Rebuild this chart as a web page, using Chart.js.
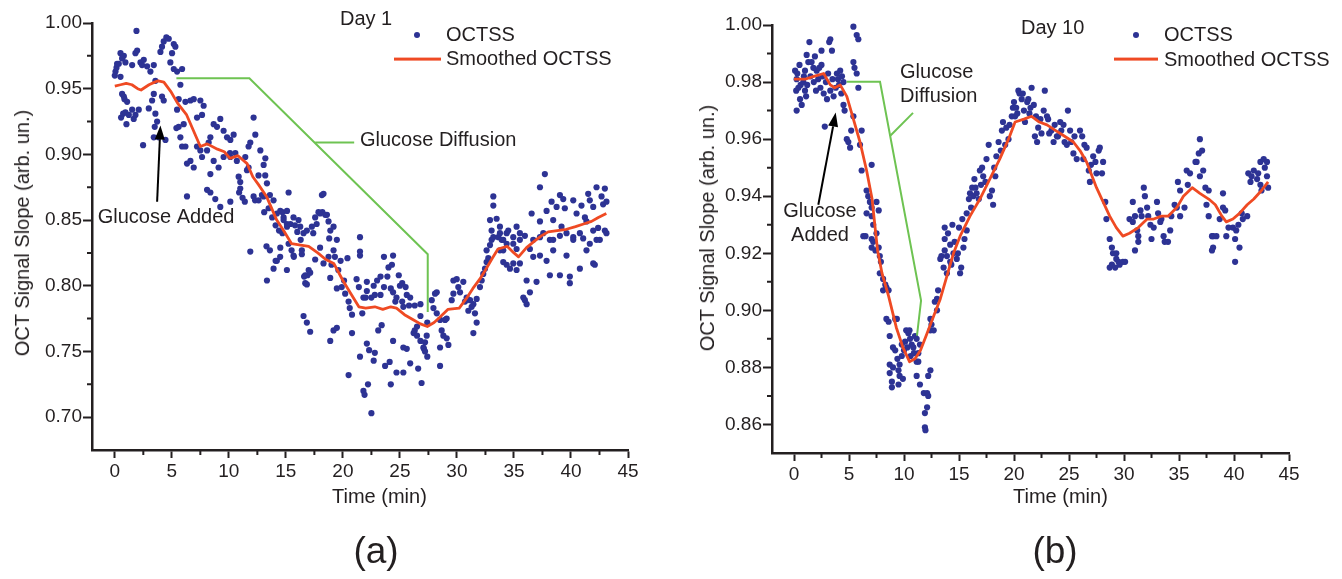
<!DOCTYPE html>
<html lang="en">
<head>
<meta charset="UTF-8">
<title>OCTSS - Day 1 / Day 10</title>
<script src="https://cdn.jsdelivr.net/npm/chart.js@4"></script>
<style>
  html, body { margin: 0; padding: 0; background: #fff; }
  body { width: 1342px; height: 579px; position: relative; overflow: hidden;
         font-family: 'Liberation Sans', Arial, Helvetica, sans-serif; color: #231f20; }
  canvas { position: absolute; top: 0; }
  .txt { position: absolute; font-size: 20px; line-height: 1; white-space: nowrap; transform: translateY(-50%); }
  .ytitle { position: absolute; font-size: 20px; line-height: 1; white-space: nowrap; transform: translate(-50%, -50%) rotate(-90deg); }
  .dot { position: absolute; width: 6px; height: 6px; border-radius: 50%; background: #2d3394; transform: translate(-50%, -50%); }
  .seg { position: absolute; height: 2.8px; background: #ef4a23; transform: translateY(-50%); }
  .tag { position: absolute; font-size: 37px; line-height: 1; transform: translate(-50%, -50%); }
</style>
</head>
<body>
<canvas id="day1" width="671" height="500" style="left:0"></canvas>
<canvas id="day10" width="662" height="500" style="left:680px"></canvas>

<!-- panel (a) texts -->
<div class="txt" style="left:340px;top:18px">Day 1</div>
<div class="dot" style="left:417px;top:35px"></div>
<div class="txt" style="left:446px;top:34px">OCTSS</div>
<div class="seg" style="left:394px;top:59px;width:47px"></div>
<div class="txt" style="left:446px;top:58px">Smoothed OCTSS</div>
<div class="ytitle" style="left:22px;top:233px">OCT Signal Slope (arb. un.)</div>
<div class="txt" style="left:332px;top:496px">Time (min)</div>
<div class="tag" style="left:376px;top:550px">(a)</div>

<!-- panel (b) texts -->
<div class="txt" style="left:1021px;top:27px">Day 10</div>
<div class="dot" style="left:1136px;top:35px"></div>
<div class="txt" style="left:1164px;top:34px">OCTSS</div>
<div class="seg" style="left:1114px;top:59px;width:44px"></div>
<div class="txt" style="left:1164px;top:59px">Smoothed OCTSS</div>
<div class="ytitle" style="left:707px;top:228px">OCT Signal Slope (arb. un.)</div>
<div class="txt" style="left:1013px;top:496px">Time (min)</div>
<div class="tag" style="left:1055px;top:550px">(b)</div>

<script>
// ---- data: [time (min), OCT signal slope] ----
const day1Points = [
  [0.0,0.960],[0.06,0.963],[0.15,0.966],[0.2,0.969],[0.35,0.969],[0.5,0.977],[0.5,0.959],[0.55,0.928],[0.64,0.973],[0.64,0.946],
  [0.73,0.931],[0.79,0.975],[0.79,0.944],[0.85,0.942],[0.93,0.970],[0.93,0.932],[1.02,0.923],[1.08,0.940],[1.23,0.930],[1.52,0.968],
  [1.52,0.934],[1.66,0.927],[1.81,0.977],[1.81,0.930],[1.9,0.994],[1.96,0.979],
  [2.1,0.934],[2.25,0.970],[2.39,0.968],[2.48,0.907],[2.54,0.972],[2.83,0.967],[2.98,0.935],[3.12,0.963],[3.27,0.941],[3.42,0.968],
  [3.42,0.946],[3.42,0.913],[3.5,0.921],[3.56,0.956],[3.56,0.931],[3.71,0.925],[3.85,0.913],[4.0,0.978],
  [4.14,0.982],[4.14,0.944],[4.29,0.986],[4.29,0.941],[4.44,0.911],[4.52,0.989],[4.73,0.988],[4.87,0.970],[5.02,0.977],[5.17,0.984],
  [5.17,0.965],[5.31,0.982],[5.4,0.920],[5.46,0.963],[5.46,0.934],[5.6,0.942],[5.6,0.921],[5.75,0.953],[5.75,0.913],[5.9,0.965],[5.9,0.906],
  [6.04,0.923],[6.19,0.940],[6.19,0.906],[6.33,0.893],[6.33,0.868],[6.63,0.941],[6.63,0.895],[6.92,0.942],[6.92,0.890],[7.21,0.928],
  [7.21,0.906],[7.5,0.941],[7.5,0.903],[7.65,0.930],[7.65,0.898],[7.79,0.937],
  [8.09,0.903],[8.09,0.873],[8.23,0.909],[8.38,0.913],[8.38,0.885],[8.38,0.871],[8.67,0.923],[8.67,0.895],[8.81,0.866],[8.96,0.921],
  [9.1,0.890],[9.25,0.927],[9.25,0.860],[9.54,0.918],[9.54,0.898],[9.84,0.913],
  [10.1,0.901],[10.13,0.911],[10.13,0.898],[10.13,0.864],[10.42,0.915],[10.57,0.901],[10.7,0.895],[10.86,0.883],[10.9,0.871],[11.0,0.879],
  [11.0,0.874],[11.2,0.867],[11.4,0.864],[11.44,0.898],[11.59,0.888],[11.73,0.906],[11.73,0.890],[11.88,0.909],[11.88,0.826],
  [12.17,0.928],[12.17,0.868],[12.3,0.865],[12.32,0.915],[12.6,0.884],[12.61,0.865],[12.76,0.903],[12.9,0.869],[13.05,0.892],[13.05,0.868],
  [13.1,0.856],[13.2,0.897],[13.19,0.884],[13.3,0.830],[13.34,0.878],[13.34,0.804],[13.49,0.859],[13.6,0.869],[13.6,0.827],[13.8,0.852],
  [13.92,0.865],[13.92,0.813],
  [14.1,0.846],[14.1,0.819],[14.21,0.855],[14.21,0.819],[14.4,0.842],[14.5,0.822],[14.51,0.857],[14.51,0.829],[14.7,0.856],[14.7,0.840],
  [14.8,0.852],[14.8,0.850],[15.09,0.847],[15.09,0.812],[15.1,0.857],[15.1,0.845],[15.24,0.871],[15.24,0.832],[15.4,0.847],[15.5,0.827],
  [15.67,0.852],[15.67,0.823],[15.7,0.822],[15.8,0.846],
  [16.0,0.841],[16.11,0.850],[16.26,0.845],[16.3,0.835],[16.4,0.824],[16.4,0.827],[16.55,0.840],[16.55,0.777],[16.6,0.807],[16.7,0.808],
  [16.7,0.802],[16.84,0.842],[16.84,0.801],[16.84,0.772],[16.9,0.808],[17.0,0.812],[17.13,0.810],[17.13,0.765],[17.28,0.845],[17.4,0.840],
  [17.57,0.852],[17.57,0.820],[17.7,0.847],[17.86,0.856],[18.0,0.855],[18.0,0.829],
  [18.16,0.869],[18.2,0.856],[18.3,0.870],[18.3,0.817],[18.45,0.854],[18.6,0.854],[18.74,0.849],[18.74,0.822],[18.8,0.836],[18.89,0.806],
  [18.89,0.758],[18.9,0.842],[19.0,0.816],[19.18,0.845],[19.18,0.827],[19.18,0.766],[19.3,0.822],[19.47,0.835],[19.47,0.798],[19.47,0.768],
  [19.6,0.812],[19.8,0.819],[19.9,0.799],
  [20.1,0.804],[20.2,0.794],[20.4,0.821],[20.5,0.788],[20.5,0.732],[20.6,0.783],[20.8,0.778],[20.8,0.764],[21.2,0.805],[21.4,0.799],
  [21.5,0.837],[21.5,0.826],[21.5,0.823],[21.5,0.746],[21.7,0.779],[21.8,0.791],[21.8,0.720],[21.9,0.717],[22.0,0.791],[22.1,0.796],
  [22.1,0.803],[22.1,0.756],[22.2,0.725],[22.3,0.751],[22.5,0.791],[22.5,0.703],[22.7,0.800],[22.7,0.743],[22.8,0.793],[22.8,0.749],
  [23.0,0.804],[23.1,0.766],[23.3,0.807],[23.3,0.793],[23.4,0.770],[23.6,0.822],[23.6,0.799],[23.7,0.739],[23.9,0.807],[24.0,0.814],
  [24.1,0.742],[24.2,0.798],[24.2,0.725],[24.3,0.816],[24.4,0.823],[24.4,0.795],[24.4,0.758],[24.6,0.788],[24.7,0.791],[24.7,0.734],[24.9,0.808],
  [25.0,0.800],[25.2,0.802],[25.2,0.788],[25.3,0.784],[25.3,0.753],[25.3,0.734],[25.5,0.799],[25.6,0.793],[25.6,0.752],[25.8,0.785],
  [25.9,0.791],[25.9,0.741],[26.2,0.764],[26.3,0.785],[26.3,0.766],[26.5,0.769],[26.5,0.762],[26.6,0.737],[26.8,0.786],[26.8,0.777],
  [26.8,0.758],[26.9,0.726],
  [27.06,0.753],[27.1,0.752],[27.2,0.757],[27.2,0.750],[27.35,0.762],[27.4,0.772],[27.4,0.746],[27.79,0.789],[27.94,0.783],[28.08,0.794],
  [28.23,0.795],[28.23,0.779],[28.52,0.774],[28.52,0.753],[28.52,0.739],[28.66,0.766],[28.81,0.762],[28.96,0.774],
  [29.1,0.775],[29.1,0.760],[29.25,0.755],[29.54,0.789],[29.69,0.804],[29.69,0.794],[29.98,0.805],[30.12,0.799],[30.27,0.795],[30.56,0.803],
  [30.71,0.788],[30.85,0.791],[31.0,0.781],[31.15,0.789],[31.29,0.784],[31.44,0.786],[31.44,0.764],[31.58,0.779],[31.73,0.790],[31.73,0.772],
  [32.02,0.799],[32.17,0.804],[32.31,0.809],[32.46,0.813],[32.6,0.827],[32.6,0.818],[32.75,0.821],[32.9,0.850],[32.9,0.831],[33.04,0.842],
  [33.04,0.835],[33.19,0.868],[33.19,0.861],[33.19,0.837],[33.48,0.851],[33.63,0.837],[33.77,0.845],[33.77,0.840],[33.77,0.827],[33.92,0.835],
  [34.06,0.835],[34.06,0.827],[34.06,0.818],[34.36,0.840],[34.36,0.832],[34.36,0.816],[34.5,0.842],[34.65,0.813],[34.94,0.837],[34.94,0.832],
  [34.94,0.817],[35.23,0.845],[35.23,0.828],[35.23,0.812],[35.52,0.840],[35.52,0.835],[35.52,0.817],[35.82,0.791],[35.96,0.838],[35.96,0.789],
  [36.11,0.804],[36.11,0.786],[36.4,0.828],[36.4,0.795],[36.55,0.855],[36.69,0.835],[36.69,0.822],[36.98,0.803],[37.28,0.875],[37.28,0.849],
  [37.28,0.837],[37.28,0.823],[37.57,0.840],[37.71,0.885],[37.86,0.857],[37.86,0.819],
  [38.15,0.835],[38.15,0.808],[38.3,0.864],[38.44,0.850],[38.44,0.835],[38.44,0.827],[38.74,0.860],[39.03,0.869],[39.03,0.838],[39.03,0.808],
  [39.17,0.845],[39.32,0.866],[39.46,0.859],[39.61,0.840],[39.61,0.823],[39.9,0.807],[39.9,0.802],
  [40.2,0.865],[40.2,0.837],[40.2,0.835],[40.49,0.855],[40.78,0.840],[40.78,0.813],[40.92,0.861],[41.07,0.836],[41.22,0.852],[41.36,0.849],
  [41.36,0.827],[41.51,0.870],[41.65,0.865],[41.65,0.832],[41.95,0.860],[41.95,0.842],[41.95,0.817],[42.09,0.816],[42.24,0.875],[42.24,0.835],
  [42.38,0.844],[42.53,0.835],[42.68,0.868],[42.82,0.862],[42.97,0.874],[42.97,0.842],[43.11,0.864],[43.11,0.840]
];

const day1Smooth = [
  [0,0.952],[0.5,0.953],[1,0.954],[1.5,0.953],[2,0.950],[2.3,0.949],[3,0.953],[3.5,0.955],[3.8,0.956],[4.3,0.955],
  [4.9,0.948],[5.5,0.939],[6.3,0.930],[6.9,0.918],[7.5,0.906],[8.1,0.908],[9.0,0.904],[9.6,0.902],[10.1,0.897],[10.8,0.899],
  [11.6,0.893],[12.1,0.883],[12.6,0.877],[13.3,0.868],[14.2,0.850],[14.8,0.842],[15.5,0.832],[16.3,0.831],[17.0,0.830],[17.8,0.825],
  [18.5,0.820],[19.2,0.817],[20.0,0.804],[20.7,0.794],[21.4,0.784],[22.0,0.783],[22.8,0.784],[23.5,0.782],[24.2,0.784],[24.7,0.783],
  [25.4,0.778],[26.2,0.774],[26.8,0.771],[27.4,0.769],[28.0,0.772],[28.5,0.776],[29.2,0.782],[30.2,0.783],[30.8,0.790],[31.4,0.798],
  [32.0,0.805],[32.5,0.812],[33.1,0.821],[33.6,0.828],[34.4,0.830],[35.0,0.825],[35.4,0.822],[36.1,0.829],[36.8,0.834],[37.4,0.838],
  [38.0,0.841],[38.8,0.842],[39.6,0.843],[40.4,0.845],[41.1,0.847],[41.8,0.849],[42.4,0.852],[43.1,0.855]
];

const day10Points = [
  [0.1,0.984],[0.2,0.977],[0.24,0.981],[0.24,0.970],[0.3,0.983],[0.4,0.978],[0.5,0.986],[0.55,0.974],[0.6,0.979],[0.7,0.972],
  [0.85,0.980],[0.9,0.982],[1.0,0.984],[1.0,0.977],[1.1,0.975],[1.15,0.9895],[1.2,0.979],[1.3,0.987],[1.4,0.994],[1.5,0.982],
  [1.6,0.987],[1.76,0.985],[1.8,0.980],[1.9,0.989],
  [2.0,0.977],[2.06,0.984],[2.2,0.981],[2.3,0.985],[2.4,0.978],[2.5,0.986],[2.5,0.991],[2.6,0.982],[2.7,0.976],[2.8,0.9644],
  [2.9,0.980],[3.0,0.974],[3.1,0.983],[3.2,0.994],[3.3,0.995],[3.3,0.977],[3.45,0.991],[3.5,0.981],[3.6,0.975],[3.8,0.978],[3.9,0.983],
  [4.0,0.981],[4.1,0.979],[4.2,0.984],[4.3,0.976],[4.36,0.982],[4.5,0.980],[4.5,0.972],[4.6,0.970],[4.8,0.960],[4.94,0.959],
  [5.1,0.957],[5.2,0.963],[5.4,0.9994],[5.4,0.987],[5.4,0.968],[5.5,0.985],[5.7,0.9965],[5.7,0.983],[5.85,0.995],[5.85,0.978],
  [6.0,0.958],[6.15,0.963],[6.15,0.949],[6.3,0.926],[6.5,0.926],[6.6,0.942],[6.6,0.934],[6.75,0.940],[6.9,0.938],[7.06,0.951],
  [7.06,0.936],[7.06,0.933],[7.06,0.925],[7.06,0.922],[7.2,0.930],[7.2,0.924],[7.4,0.921],[7.5,0.938],[7.5,0.927],[7.7,0.935],
  [7.7,0.922],[7.8,0.919],[7.8,0.913],[7.9,0.917],
  [8.1,0.911],[8.1,0.907],[8.3,0.909],[8.4,0.908],[8.4,0.897],[8.6,0.907],[8.6,0.896],[8.7,0.891],[8.7,0.881],[8.7,0.878],
  [8.9,0.875],[8.9,0.873],[9.0,0.887],[9.0,0.880],[9.2,0.897],[9.2,0.886],[9.35,0.897],[9.4,0.883],[9.5,0.879],[9.5,0.874],
  [9.6,0.877],[9.6,0.881],[9.8,0.884],[9.8,0.888],[9.9,0.876],
  [10.0,0.886],[10.1,0.889],[10.2,0.893],[10.3,0.887],[10.4,0.892],[10.5,0.893],[10.55,0.890],[10.6,0.884],[10.7,0.888],[10.85,0.887],
  [10.9,0.885],[11.0,0.891],[11.15,0.890],[11.15,0.882],[11.15,0.877],[11.3,0.885],[11.3,0.882],[11.45,0.888],[11.45,0.874],[11.8,0.871],
  [11.9,0.864],[11.9,0.859],[11.95,0.858],
  [12.1,0.871],[12.1,0.866],[12.2,0.870],[12.2,0.877],[12.4,0.879],[12.4,0.893],[12.4,0.897],[12.5,0.895],[12.7,0.893],[12.8,0.903],
  [13.0,0.904],[13.0,0.900],[13.1,0.907],[13.3,0.918],[13.4,0.919],[13.6,0.915],[13.7,0.921],[13.7,0.925],[13.7,0.929],[13.9,0.919],
  [13.9,0.913],[14.0,0.927],
  [14.2,0.923],[14.2,0.917],[14.3,0.916],[14.4,0.930],[14.5,0.920],[14.6,0.924],[14.8,0.918],[14.9,0.920],[15.0,0.929],[15.1,0.913],
  [15.2,0.915],[15.3,0.932],[15.4,0.922],[15.5,0.925],[15.7,0.928],[15.7,0.934],[15.9,0.939],
  [16.0,0.941],[16.1,0.936],[16.2,0.943],[16.3,0.940],[16.4,0.946],[16.5,0.943],[16.6,0.941],[16.8,0.939],[16.9,0.949],[17.0,0.944],
  [17.1,0.950],[17.2,0.947],[17.4,0.945],[17.5,0.953],[17.7,0.958],[17.8,0.940],
  [18.0,0.942],[18.1,0.937],[18.2,0.950],[18.3,0.947],[18.4,0.954],[18.6,0.959],[18.8,0.956],[18.9,0.963],[19.0,0.966],[19.2,0.958],
  [19.3,0.964],[19.5,0.960],[19.6,0.965],[19.8,0.968],[19.9,0.971],
  [20.0,0.973],[20.1,0.968],[20.2,0.971],[20.3,0.969],[20.4,0.977],[20.5,0.976],[20.7,0.974],[20.8,0.976],[20.9,0.970],[21.0,0.966],
  [21.2,0.973],[21.3,0.974],[21.4,0.969],[21.5,0.971],[21.6,0.978],[21.8,0.972],[21.9,0.961],
  [22.0,0.968],[22.1,0.959],[22.2,0.964],[22.4,0.967],[22.5,0.962],[22.7,0.970],[22.8,0.977],[23.0,0.968],[23.1,0.967],[23.2,0.962],
  [23.4,0.963],[23.6,0.959],[23.7,0.965],[23.9,0.961],
  [24.0,0.961],[24.2,0.966],[24.3,0.963],[24.5,0.965],[24.6,0.959],[24.8,0.958],[24.9,0.970],[25.1,0.963],[25.2,0.959],[25.4,0.955],
  [25.5,0.961],[25.7,0.953],
  [26.0,0.963],[26.2,0.961],[26.3,0.953],[26.4,0.958],[26.6,0.957],[26.8,0.949],[26.9,0.945],[27.0,0.951],[27.2,0.954],[27.4,0.952],
  [27.5,0.948],[27.7,0.956],[27.8,0.957],
  [28.0,0.948],[28.1,0.952],[28.3,0.938],[28.4,0.932],[28.7,0.925],[28.7,0.915],[28.9,0.922],[28.9,0.916],[29.0,0.920],[29.2,0.915],
  [29.3,0.918],[29.3,0.920],[29.5,0.917],[29.6,0.916],[29.9,0.917],[30.1,0.917],
  [30.5,0.932],[30.8,0.938],[30.8,0.931],[31.0,0.933],[31.0,0.921],[31.2,0.928],[31.3,0.926],[31.3,0.924],[31.5,0.935],[31.6,0.933],
  [31.8,0.943],[31.9,0.940],[32.1,0.936],[32.2,0.933],[32.4,0.930],[32.5,0.925],[32.7,0.929],[33.0,0.938],[33.1,0.934],[33.3,0.931],
  [33.4,0.932],[33.6,0.926],[33.7,0.924],[34.0,0.924],[34.2,0.928],[34.3,0.933],[34.6,0.937],[34.8,0.936],[34.9,0.945],[35.1,0.942],
  [35.1,0.933],[35.5,0.936],[35.7,0.949],[35.8,0.944],[36.0,0.948],[36.5,0.952],[36.6,0.952],[36.8,0.955],[36.9,0.960],[36.9,0.947],
  [37.1,0.956],[37.2,0.949],[37.4,0.943],[37.5,0.937],[37.7,0.942],[37.7,0.933],[38.0,0.926],[38.0,0.921],[38.1,0.926],[38.1,0.922],
  [38.4,0.926],[38.7,0.932],[39.0,0.941],[39.0,0.936],[39.2,0.935],[39.3,0.926],[39.5,0.929],[39.9,0.929],[40.1,0.925],[40.1,0.917],
  [40.2,0.928],[40.4,0.930],[40.5,0.922],[40.7,0.934],[40.8,0.932],[41.2,0.933],[41.3,0.948],[41.5,0.945],[41.6,0.947],[41.8,0.949],
  [42.1,0.946],[42.2,0.948],[42.4,0.944],[42.4,0.952],[42.5,0.942],[42.7,0.953],[42.8,0.950],[43.0,0.947],[43.0,0.952],[43.1,0.943]
];

const day10Smooth = [
  [0,0.981],[1,0.981],[1.8,0.982],[2.7,0.983],[3.3,0.979],[3.7,0.978],[4.2,0.979],[4.8,0.975],[5.4,0.967],[6.0,0.959],
  [6.6,0.949],[7.1,0.939],[7.4,0.928],[7.6,0.921],[8.0,0.913],[8.6,0.905],[9.3,0.894],[9.9,0.887],[10.5,0.882],[11.0,0.883],
  [11.5,0.886],[12.1,0.892],[12.7,0.898],[13.3,0.904],[13.9,0.912],[14.5,0.920],[15.1,0.926],[16.0,0.933],[16.9,0.939],[17.8,0.946],
  [18.7,0.953],[19.5,0.960],[20.1,0.966],[20.9,0.967],[21.6,0.968],[22.3,0.966],[23.0,0.965],[23.8,0.963],[24.6,0.961],[25.4,0.959],
  [26.0,0.956],[26.6,0.952],[26.9,0.949],[27.5,0.943],[28.1,0.938],[28.7,0.933],[29.3,0.929],[29.9,0.926],[30.5,0.927],[31.3,0.929],
  [32.1,0.932],[32.7,0.932],[33.4,0.933],[34.0,0.933],[34.8,0.936],[35.4,0.940],[36.2,0.943],[36.9,0.941],[37.7,0.939],[38.3,0.937],
  [38.9,0.933],[39.3,0.931],[39.9,0.932],[40.5,0.934],[41.2,0.937],[41.8,0.939],[42.5,0.942],[43.1,0.945]
];

// "Glucose Diffusion" callout lines and "Glucose Added" arrows (time, slope)
const day1Diffusion = [[5.4,0.958],[11.8,0.958],[27.44,0.824],[27.44,0.780]];
const day1DiffusionTick = [[17.57,0.909],[20.99,0.909]];
const day1Arrow = [[3.71,0.864],[4.0,0.922]];
const day10Diffusion = [[4.79,0.9801],[7.82,0.9801],[11.55,0.9034],[11.18,0.8911]];
const day10DiffusionTick = [[8.73,0.9611],[10.82,0.9692]];
const day10Arrow = [[2.21,0.937],[3.79,0.9693]];

// ticks
const xMajor = [0, 5, 10, 15, 20, 25, 30, 35, 40, 45];
const xMinor = [2.5, 7.5, 12.5, 17.5, 22.5, 27.5, 32.5, 37.5, 42.5];
const day1YMajor = [0.70, 0.75, 0.80, 0.85, 0.90, 0.95, 1.00];
const day1YMinor = [0.725, 0.775, 0.825, 0.875, 0.925, 0.975];
const day10YMajor = [0.86, 0.88, 0.90, 0.92, 0.94, 0.96, 0.98, 1.00];
const day10YMinor = [0.87, 0.89, 0.91, 0.93, 0.95, 0.97, 0.99];

const AXIS = '#231f20';
const DOT = '#2d3394';
const RED = '#ef4a23';
const GREEN = '#6ec352';
const FONT = "'Liberation Sans', Arial, Helvetica, sans-serif";

Chart.defaults.font.family = FONT;
Chart.defaults.color = AXIS;

const toXY = arr => arr.map(([t, v]) => ({x: t, y: v}));

// minor ticks, arrow and callout text
const panelDecor = {
  id: 'panelDecor',
  afterDraw(chart, args, opts) {
    const {ctx, chartArea: a} = chart;
    const xs = chart.scales.x, ys = chart.scales.y;
    ctx.save();
    ctx.strokeStyle = AXIS;
    ctx.lineWidth = 2;
    ctx.beginPath();
    opts.xMinor.forEach(v => {
      const p = xs.getPixelForValue(v);
      ctx.moveTo(p, a.bottom); ctx.lineTo(p, a.bottom + 5);
    });
    opts.yMinor.forEach(v => {
      const p = ys.getPixelForValue(v);
      ctx.moveTo(a.left, p); ctx.lineTo(a.left - 5, p);
    });
    ctx.stroke();

    // arrow
    const [[t0, v0], [t1, v1]] = opts.arrow;
    const x0 = xs.getPixelForValue(t0), y0 = ys.getPixelForValue(v0);
    const x1 = xs.getPixelForValue(t1), y1 = ys.getPixelForValue(v1);
    const ang = Math.atan2(y1 - y0, x1 - x0);
    const head = 14, half = 5;
    const bx = x1 - head * Math.cos(ang), by = y1 - head * Math.sin(ang);
    ctx.strokeStyle = '#000';
    ctx.fillStyle = '#000';
    ctx.lineWidth = 2;
    ctx.beginPath(); ctx.moveTo(x0, y0); ctx.lineTo(bx, by); ctx.stroke();
    ctx.beginPath();
    ctx.moveTo(x1, y1);
    ctx.lineTo(bx + half * Math.sin(ang), by - half * Math.cos(ang));
    ctx.lineTo(bx - half * Math.sin(ang), by + half * Math.cos(ang));
    ctx.closePath(); ctx.fill();

    // callout text
    ctx.font = '20px ' + FONT;
    ctx.fillStyle = AXIS;
    ctx.textBaseline = 'middle';
    opts.notes.forEach(n => {
      ctx.textAlign = n.align;
      ctx.fillText(n.text, xs.getPixelForValue(n.t), ys.getPixelForValue(n.v));
    });
    ctx.restore();
  }
};

function buildPanel(id, cfg) {
  return new Chart(document.getElementById(id), {
    type: 'scatter',
    data: {
      datasets: [
        { label: 'Smoothed OCTSS', data: toXY(cfg.smooth), showLine: true, borderColor: RED, borderWidth: 2.8,
          borderJoinStyle: 'round', pointRadius: 0, order: 1 },
        { label: 'Glucose Diffusion', data: toXY(cfg.diffusion), showLine: true, borderColor: GREEN, borderWidth: 2,
          pointRadius: 0, order: 2 },
        { label: 'Glucose Diffusion label', data: toXY(cfg.diffusionTick), showLine: true, borderColor: GREEN, borderWidth: 2,
          pointRadius: 0, order: 2 },
        { label: 'OCTSS', data: toXY(cfg.points), pointRadius: 3.1, pointBackgroundColor: DOT, pointBorderColor: DOT,
          pointBorderWidth: 0, order: 3, clip: false }
      ]
    },
    options: {
      responsive: false,
      animation: false,
      events: [],
      layout: { padding: cfg.pad },
      plugins: {
        legend: { display: false },
        tooltip: { enabled: false },
        panelDecor: { xMinor: xMinor, yMinor: cfg.yMinor, arrow: cfg.arrow, notes: cfg.notes }
      },
      scales: {
        x: {
          type: 'linear', min: -2, max: 45,
          afterBuildTicks: s => { s.ticks = xMajor.map(v => ({value: v})); },
          afterFit: s => { s.height = cfg.xHeight; },
          border: { display: true, color: AXIS, width: 2.5 },
          grid: { drawOnChartArea: false, drawTicks: true, tickLength: 8, tickWidth: 2, tickColor: AXIS },
          ticks: { padding: 2, font: { size: 19 }, color: AXIS, autoSkip: false, maxRotation: 0,
                   callback: v => String(v) }
        },
        y: {
          type: 'linear', min: cfg.yMin, max: 1.0,
          afterBuildTicks: s => { s.ticks = cfg.yMajor.map(v => ({value: v})); },
          afterFit: s => { s.width = 92; },
          border: { display: true, color: AXIS, width: 2.5 },
          grid: { drawOnChartArea: false, drawTicks: true, tickLength: 9, tickWidth: 2, tickColor: AXIS },
          ticks: { padding: 1, font: { size: 19 }, color: AXIS, autoSkip: false,
                   callback: v => v.toFixed(2) }
        }
      }
    },
    plugins: [panelDecor]
  });
}

buildPanel('day1', {
  points: day1Points, smooth: day1Smooth,
  diffusion: day1Diffusion, diffusionTick: day1DiffusionTick, arrow: day1Arrow,
  yMin: 0.675, yMajor: day1YMajor, yMinor: day1YMinor,
  pad: { top: 23, right: 43, bottom: 0, left: 0 }, xHeight: 50,
  notes: [
    { text: 'Glucose Diffusion', t: 21.5, v: 0.9107, align: 'left' },
    { text: 'Glucose Added', t: -1.5, v: 0.8521, align: 'left' }
  ]
});

buildPanel('day10', {
  points: day10Points, smooth: day10Smooth,
  diffusion: day10Diffusion, diffusionTick: day10DiffusionTick, arrow: day10Arrow,
  yMin: 0.85, yMajor: day10YMajor, yMinor: day10YMinor,
  pad: { top: 25, right: 53, bottom: 0, left: 0 }, xHeight: 47,
  notes: [
    { text: 'Glucose', t: 9.64, v: 0.9835, align: 'left' },
    { text: 'Diffusion', t: 9.64, v: 0.9748, align: 'left' },
    { text: 'Glucose', t: 2.36, v: 0.9345, align: 'center' },
    { text: 'Added', t: 2.36, v: 0.9261, align: 'center' }
  ]
});
</script>
</body>
</html>
